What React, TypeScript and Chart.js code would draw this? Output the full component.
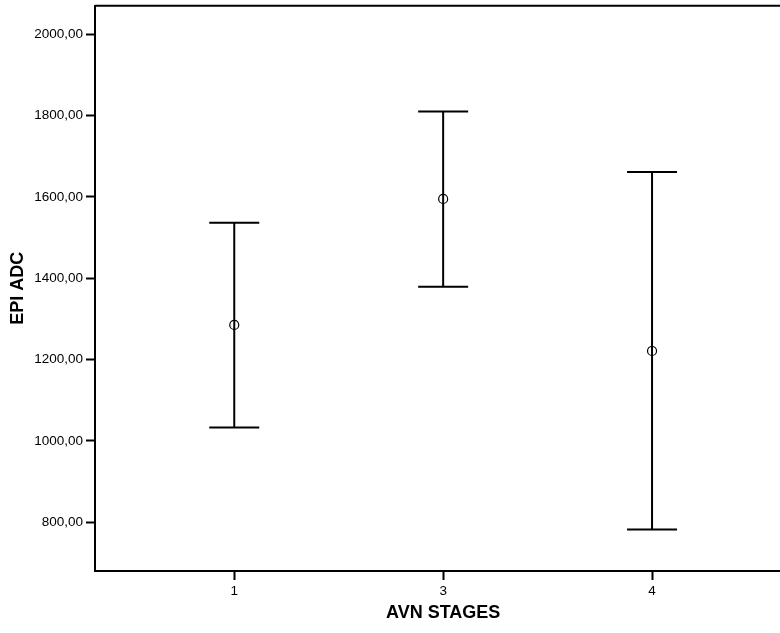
import React, { useEffect, useRef } from "react";
import { Chart, registerables } from "chart.js";

Chart.register(...registerables);

const categories = ["1", "3", "4"];
const means = [1285, 1595, 1221];
const lowerBounds = [1033, 1379, 782];
const upperBounds = [1536, 1810, 1661];
const yTickValues = [800, 1000, 1200, 1400, 1600, 1800, 2000];

const FONT = "'Liberation Sans', Arial, Helvetica, sans-serif";

const errorBarPlugin = {
  id: "errorBars",
  beforeDatasetsDraw(chart: any) {
    const { ctx, scales } = chart;
    const xs = scales.x;
    const ys = scales.y;
    ctx.save();
    ctx.beginPath();
    ctx.rect(chart.chartArea.left, chart.chartArea.top, chart.chartArea.right - chart.chartArea.left, chart.chartArea.bottom - chart.chartArea.top);
    ctx.clip();
    ctx.strokeStyle = "#000";
    ctx.lineWidth = 2;
    const cap = 25;
    categories.forEach((_, i) => {
      const px = xs.getPixelForValue(i);
      const lo = ys.getPixelForValue(lowerBounds[i]);
      const hi = ys.getPixelForValue(upperBounds[i]);
      ctx.beginPath();
      ctx.moveTo(px, lo);
      ctx.lineTo(px, hi);
      ctx.moveTo(px - cap, lo);
      ctx.lineTo(px + cap, lo);
      ctx.moveTo(px - cap, hi);
      ctx.lineTo(px + cap, hi);
      ctx.stroke();
    });
    ctx.restore();
  },
  afterDraw(chart: any) {
    const { ctx, chartArea } = chart;
    ctx.save();
    ctx.strokeStyle = "#000";
    ctx.lineWidth = 2;
    ctx.beginPath();
    ctx.moveTo(chartArea.left, chartArea.top);
    ctx.lineTo(chartArea.right, chartArea.top);
    ctx.stroke();
    ctx.restore();
  },
};

export default function App() {
  const ref = useRef<HTMLCanvasElement | null>(null);

  useEffect(() => {
    if (!ref.current) return;
    const chart = new Chart(ref.current, {
      type: "scatter",
      data: {
        datasets: [
          {
            data: means.map((m, i) => ({ x: i, y: m })),
            pointStyle: "circle",
            pointRadius: 4.5,
            pointBorderWidth: 1.2,
            pointBorderColor: "#000",
            pointBackgroundColor: "rgba(0,0,0,0)",
            showLine: false,
          },
        ],
      },
      options: {
        animation: false,
        responsive: false,
        devicePixelRatio: 1,
        layout: { padding: { top: 4, right: 0, left: 0, bottom: 0 } },
        plugins: {
          legend: { display: false },
          tooltip: { enabled: false },
        },
        scales: {
          x: {
            type: "linear",
            min: -2 / 3,
            max: 8 / 3,
            afterBuildTicks: (scale: any) => {
              scale.ticks = categories.map((_, i) => ({ value: i }));
            },
            afterFit: (scale: any) => {
              scale.height = 62;
              scale.paddingLeft = 0;
              scale.paddingRight = 0;
            },
            ticks: {
              color: "#000",
              font: { family: FONT, size: 13.5 },
              padding: 3,
              maxRotation: 0,
              autoSkip: false,
              callback: (v: any) => categories[Math.round(Number(v))] ?? "",
            },
            grid: {
              display: true,
              drawOnChartArea: false,
              drawTicks: true,
              tickLength: 9,
              tickWidth: 2,
              tickColor: "#000",
            },
            border: { display: true, color: "#000", width: 2 },
            title: {
              display: true,
              text: "AVN STAGES",
              color: "#000",
              font: { family: FONT, size: 18, weight: "bold" },
              padding: { top: 0, bottom: 9 },
            },
          },
          y: {
            type: "linear",
            min: 680,
            max: 2070,
            afterBuildTicks: (scale: any) => {
              scale.ticks = yTickValues.map((v) => ({ value: v }));
            },
            afterFit: (scale: any) => {
              scale.width = 95;
              scale.paddingTop = 0;
              scale.paddingBottom = 0;
            },
            ticks: {
              color: "#000",
              font: { family: FONT, size: 13.5 },
              padding: 3,
              autoSkip: false,
              callback: (v: any) => Number(v).toFixed(2).replace(".", ","),
            },
            grid: {
              display: true,
              drawOnChartArea: false,
              drawTicks: true,
              tickLength: 9,
              tickWidth: 2,
              tickColor: "#000",
            },
            border: { display: true, color: "#000", width: 2 },
            title: {
              display: true,
              text: "EPI ADC",
              color: "#000",
              font: { family: FONT, size: 18, weight: "bold" },
              padding: { top: 7, bottom: 0 },
            },
          },
        },
      },
      plugins: [errorBarPlugin],
    });
    return () => chart.destroy();
  }, []);

  return (
    <div
      style={{
        position: "fixed",
        left: 0,
        top: 0,
        width: 780,
        height: 633,
        overflow: "hidden",
        background: "#fff",
      }}
    >
      <canvas ref={ref} width={797} height={633} style={{ display: "block" }} />
    </div>
  );
}
